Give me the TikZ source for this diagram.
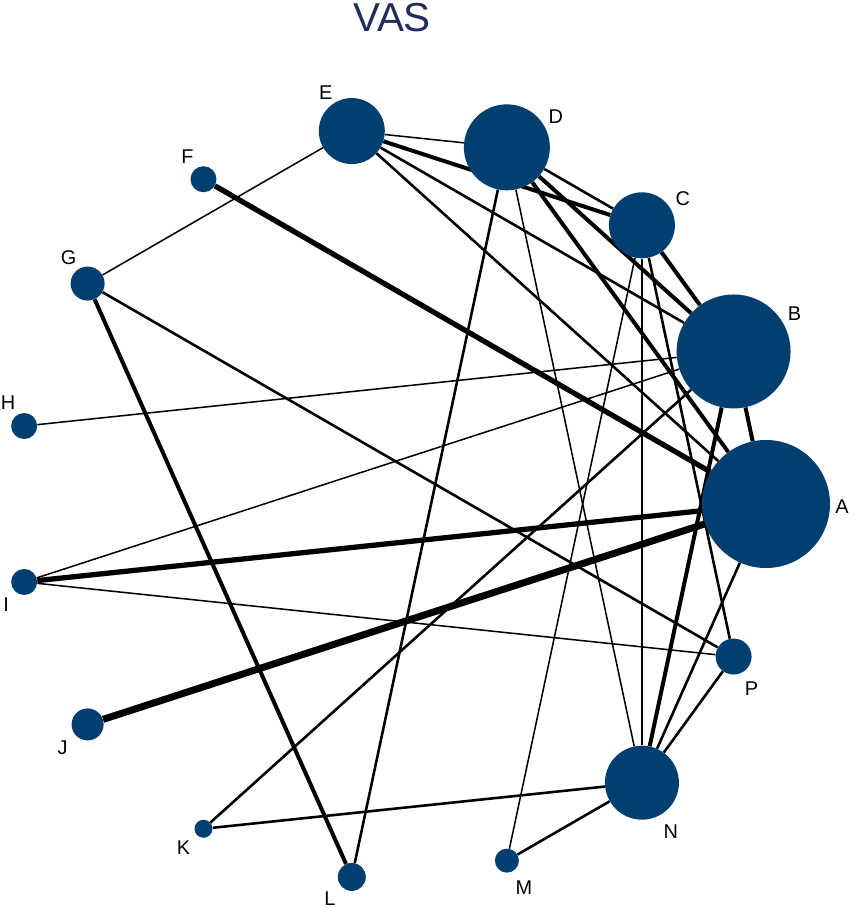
\documentclass[tikz,border=0pt]{standalone}
\usepackage{fontspec}
\setmainfont{Liberation Sans}
\usepackage{tikz}
\usetikzlibrary{backgrounds}
\definecolor{nodeblue}{RGB}{1,63,113}
\definecolor{titleblue}{RGB}{31,45,92}

\begin{document}
\begin{tikzpicture}[x=0.03cm,y=0.03cm,
  trt/.style={circle,fill=nodeblue,inner sep=0pt,minimum size=#1*0.6mm},
  lab/.style={font=\fontsize{17}{20}\selectfont,inner sep=0pt},
  w1/.style={line width=1.3pt},
  w2/.style={line width=2.2pt},
  w3/.style={line width=3.4pt},
  w4/.style={line width=4.5pt},
  w5/.style={line width=6pt}]
\useasboundingbox (-391,-404) rectangle (463,504);
\node[anchor=base,text=titleblue,font=\fontsize{34.5}{40}\selectfont] (title) at (1,472) {VAS};
% treatments on the circle
\node[trt=64] (A) at (0:375) {};
\node[trt=57] (B) at (24:375) {};
\node[trt=33] (C) at (48:375) {};
\node[trt=43] (D) at (72:375) {};
\node[trt=33] (E) at (96:375) {};
\node[trt=13] (F) at (120:375) {};
\node[trt=17] (G) at (144:375) {};
\node[trt=13] (H) at (168:375) {};
\node[trt=13] (I) at (192:375) {};
\node[trt=16] (J) at (216:375) {};
\node[trt=9]  (K) at (240:375) {};
\node[trt=14] (L) at (264:375) {};
\node[trt=12] (M) at (288:375) {};
\node[trt=37] (N) at (312:375) {};
\node[trt=18] (P) at (336:375) {};
% labels
\path (A) ++(76,-3) node[lab] (labA) {A};
\path (B) ++(61,38) node[lab] (labB) {B};
\path (C) ++(41,27) node[lab] (labC) {C};
\path (D) ++(49,31) node[lab] (labD) {D};
\path (E) ++(-26,38) node[lab] (labE) {E};
\path (F) ++(-16,23) node[lab] (labF) {F};
\path (G) ++(-19,26) node[lab] (labG) {G};
\path (H) ++(-16,23) node[lab] (labH) {H};
\path (I) ++(-18,-23) node[lab] (labI) {I};
\path (J) ++(-25,-23) node[lab] (labJ) {J};
\path (K) ++(-20,-19) node[lab] (labK) {K};
\path (L) ++(-22,-22) node[lab] (labL) {L};
\path (M) ++(17,-27) node[lab] (labM) {M};
\path (N) ++(29,-49) node[lab] (labN) {N};
\path (P) ++(18,-32) node[lab] (labP) {P};
% comparisons
\begin{scope}[on background layer]
\draw[w1] (E) -- (G);
\draw[w1] (E) -- (D);
\draw[w3] (E) -- (C);
\draw[w2] (E) -- (B);
\draw[w2] (E) -- (A);
\draw[w2] (D) -- (C);
\draw[w3] (D) -- (B);
\draw[w3] (D) -- (A);
\draw[w2] (D) -- (L);
\draw[w1] (D) -- (N);
\draw[w3] (C) -- (B);
\draw[w2] (C) -- (N);
\draw[w2] (C) -- (P);
\draw[w1] (C) -- (M);
\draw[w3] (B) -- (A);
\draw[w1] (B) -- (H);
\draw[w1] (B) -- (I);
\draw[w2] (B) -- (K);
\draw[w3] (B) -- (N);
\draw[w4] (A) -- (F);
\draw[w4] (A) -- (I);
\draw[w5] (A) -- (J);
\draw[w2] (A) -- (N);
\draw[w3] (G) -- (L);
\draw[w2] (G) -- (P);
\draw[w1] (I) -- (P);
\draw[w2] (K) -- (N);
\draw[w2] (M) -- (N);
\draw[w2] (P) -- (N);
\end{scope}
\end{tikzpicture}
\end{document}
